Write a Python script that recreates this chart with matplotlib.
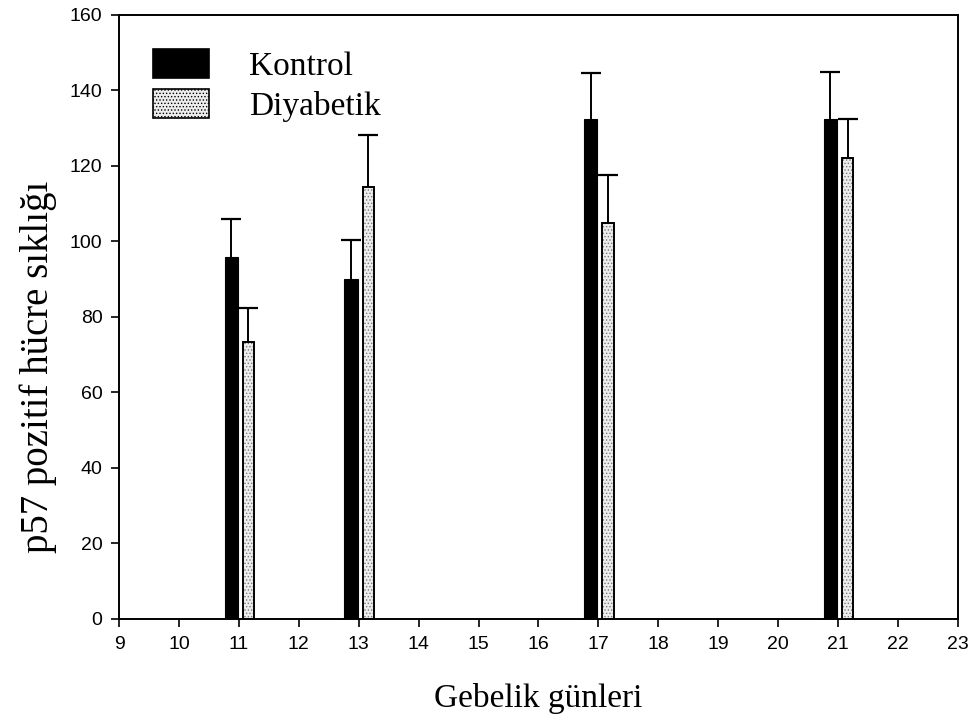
import matplotlib
matplotlib.use("Agg")
import matplotlib.pyplot as plt
import matplotlib.patches as mpatches
import numpy as np

days = [11, 13, 17, 21]
kontrol = [96, 90, 132.5, 132.5]
kontrol_err = [10, 10.5, 12, 12.5]
diyabetik = [73.5, 114.3, 105, 122.2]
diyabetik_err = [9, 14, 12.5, 10.3]
xticks = list(range(9, 24))
yticks = list(range(0, 161, 20))

plt.rcParams['hatch.color'] = '#7a7a7a'
plt.rcParams['hatch.linewidth'] = 0.6

fig = plt.figure(figsize=(9.79, 7.27), dpi=100)
ax = fig.add_axes([0.1216, 0.1486, 0.8569, 0.8308])

x = np.array(days, dtype=float)
xk = x - 0.13
xd = x + 0.16


def up_errorbar(xs, ys, errs):
    cont = ax.errorbar(xs, ys, yerr=[np.zeros(len(ys)), errs], fmt='none',
                       ecolor='black', elinewidth=1.4, capsize=7, capthick=1.6, zorder=3)
    caps = cont[1]
    if len(caps) == 2:
        caps[0].set_visible(False)


ax.bar(xk, kontrol, width=0.22, color='black', edgecolor='black', linewidth=0.8, zorder=2)
up_errorbar(xk, kontrol, kontrol_err)

ax.bar(xd, diyabetik, width=0.19, color='#ededed', hatch='.....', edgecolor='#7a7a7a',
       linewidth=0, zorder=2)
ax.bar(xd, diyabetik, width=0.19, facecolor='none', edgecolor='black', linewidth=1.4, zorder=2.5)
up_errorbar(xd, diyabetik, diyabetik_err)

ax.set_xlim(9, 23)
ax.set_ylim(0, 160)
ax.set_xticks(xticks)
ax.set_yticks(yticks)
ax.tick_params(direction='out', length=6, width=1.2, labelsize=14, pad=6)
for lab in ax.get_xticklabels() + ax.get_yticklabels():
    lab.set_family('Liberation Sans')
for s in ax.spines.values():
    s.set_linewidth(1.4)

ax.set_xlabel('Gebelik günleri', family='Liberation Serif', fontsize=24, labelpad=22)
ax.set_ylabel('p57 pozitif hücre sıklığı', family='Liberation Serif', fontsize=28)
ax.yaxis.set_label_coords(-0.074, 0.417)

h1 = mpatches.Patch(facecolor='black', edgecolor='black', linewidth=1.2)
h2 = mpatches.Patch(facecolor='#ededed', edgecolor='black', hatch='.....', linewidth=1.2)
leg = ax.legend([h1, h2], ['Kontrol', 'Diyabetik'], loc='upper left',
                bbox_to_anchor=(0.04, 0.943), frameon=False, borderpad=0, borderaxespad=0,
                handlelength=1.7, handleheight=0.95, handletextpad=1.2, labelspacing=0.2,
                prop={'family': 'Liberation Serif', 'size': 24})

fig.savefig('out.png', dpi=100)
